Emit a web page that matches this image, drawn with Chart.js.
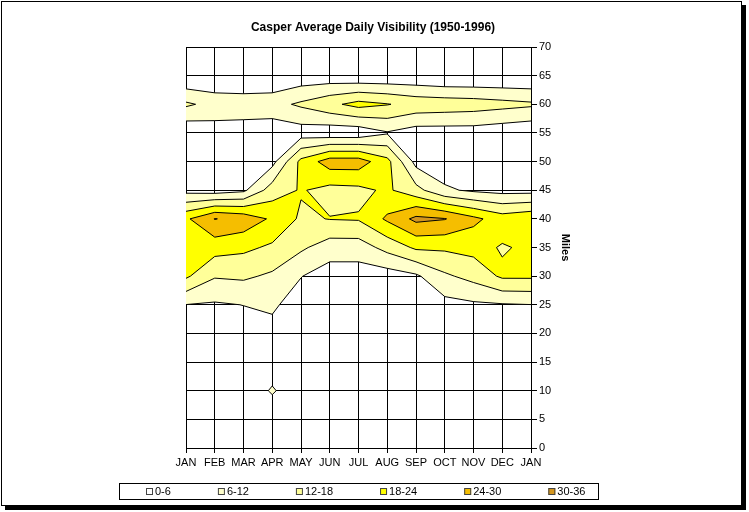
<!DOCTYPE html>
<html>
<head>
<meta charset="utf-8">
<title>Casper Average Daily Visibility</title>
<script src="https://cdn.jsdelivr.net/npm/chart.js@4"></script>
<style>
  html, body { margin: 0; padding: 0; background: #fff; }
  canvas { display: block; }
</style>
</head>
<body>
<canvas id="visChart" width="749" height="512"></canvas>
<script>
const months = ["JAN", "FEB", "MAR", "APR", "MAY", "JUN", "JUL", "AUG", "SEP", "OCT", "NOV", "DEC", "JAN"];
const milesLevels = [0, 5, 10, 15, 20, 25, 30, 35, 40, 45, 50, 55, 60, 65, 70];
const bandLabels = ["0-6", "6-12", "12-18", "18-24", "24-30", "30-36"];
const bandLimits = [6, 12, 18, 24, 30];
const bandColors = ["#FFFFFF", "#FFFFCC", "#FFFF99", "#FFFF00", "#F5BE00", "#D4961E"];

// average daily value for each visibility (miles) row, one value per month
const vis0  = [0, 0, 0, 0, 0, 0, 0, 0, 0, 0, 0, 0, 0];
const vis5  = [0, 0, 0, 1, 0, 0, 0, 0, 0, 0, 0, 0, 0];
const vis10 = [1, 1, 1, 6.8, 1, 0, 0, 0, 0, 0, 0, 0, 1];
const vis15 = [1, 1, 1, 2, 1, 1, 1, 1, 1, 1, 1, 1, 1];
const vis20 = [2, 2, 3, 4, 2, 1, 1, 1, 1, 1, 1, 1, 2];
const vis25 = [5.9, 5.3, 6.1, 7, 3, 2, 2, 2, 3, 4, 5, 5.5, 5.9];
const vis30 = [19, 12.5, 13, 11, 6.2, 3, 3, 3, 5, 11, 14, 19, 19];
const vis35 = [19, 20.5, 19.3, 17, 13, 9, 9, 14, 19, 19, 20, 17.5, 19];
const vis40 = [23, 30.2, 28, 23, 17, 18.2, 18.5, 25, 31.5, 30.3, 25.5, 21, 23];
const vis45 = [4, 3, 4.8, 15, 18.5, 16, 16.5, 19, 14, 7, 5, 4, 4];
const vis50 = [1, 1, 2, 4, 19.7, 27, 27, 19.9, 4, 2, 1, 1, 1];
const vis55 = [1, 3, 3, 2, 3, 2, 2, 5.5, 3, 3, 3, 2, 1];
const vis60 = [13, 10, 9.5, 10, 13, 16.5, 20, 18.3, 16, 15.5, 15, 14, 13];
const vis65 = [0, 0, 0, 0, 2, 2, 1, 1, 1, 0, 0, 0, 0];
const vis70 = [0, 0, 0, 0, 0, 0, 0, 0, 0, 0, 0, 0, 0];

const grid = [vis0, vis5, vis10, vis15, vis20, vis25, vis30, vis35, vis40, vis45, vis50, vis55, vis60, vis65, vis70];

const fontFamily = 'Arial, "Liberation Sans", sans-serif';
Chart.defaults.font.family = fontFamily;
Chart.defaults.color = "#000";

// filled contour bands + contour lines (marching squares on the data grid)
const contourPlugin = {
    id: "contourBands",
    beforeDatasetsDraw(chart) {
        const {ctx, chartArea, scales} = chart;
        const xs = scales.x, ys = scales.y;
        ctx.save();
        ctx.beginPath();
        ctx.rect(chartArea.left, chartArea.top, chartArea.right - chartArea.left, chartArea.bottom - chartArea.top);
        ctx.clip();
        const segs = [];
        bandLimits.forEach((t, b) => {
            ctx.beginPath();
            for (let r = 0; r < grid.length - 1; r++) {
                for (let c = 0; c < months.length - 1; c++) {
                    const pts = [
                        [c, milesLevels[r], grid[r][c]],
                        [c + 1, milesLevels[r], grid[r][c + 1]],
                        [c + 1, milesLevels[r + 1], grid[r + 1][c + 1]],
                        [c, milesLevels[r + 1], grid[r + 1][c]]
                    ];
                    const poly = [];
                    const cross = [];
                    for (let i = 0; i < 4; i++) {
                        const a = pts[i], e = pts[(i + 1) % 4];
                        const aIn = a[2] >= t, eIn = e[2] >= t;
                        if (aIn) poly.push([a[0], a[1]]);
                        if (aIn !== eIn) {
                            const f = (t - a[2]) / (e[2] - a[2]);
                            const p = [a[0] + (e[0] - a[0]) * f, a[1] + (e[1] - a[1]) * f];
                            poly.push(p);
                            cross.push({p: p, exit: aIn});
                        }
                    }
                    if (poly.length >= 3) {
                        poly.forEach((p, i) => {
                            const X = xs.getPixelForValue(p[0]), Y = ys.getPixelForValue(p[1]);
                            if (i === 0) ctx.moveTo(X, Y); else ctx.lineTo(X, Y);
                        });
                        ctx.closePath();
                    }
                    for (let k = 0; k < cross.length; k++) {
                        if (cross[k].exit) segs.push([cross[k].p, cross[(k + 1) % cross.length].p]);
                    }
                }
            }
            ctx.fillStyle = bandColors[b + 1];
            ctx.fill();
        });
        ctx.beginPath();
        segs.forEach(s => {
            ctx.moveTo(xs.getPixelForValue(s[0][0]), ys.getPixelForValue(s[0][1]));
            ctx.lineTo(xs.getPixelForValue(s[1][0]), ys.getPixelForValue(s[1][1]));
        });
        ctx.strokeStyle = "#000";
        ctx.lineWidth = 1;
        ctx.stroke();
        ctx.restore();
    }
};

// boxed legend under the axis, plus the chart frame with its shadow
const frameLegendPlugin = {
    id: "frameLegend",
    afterDraw(chart) {
        const {ctx, chartArea} = chart;
        const xs = chart.scales.x;
        ctx.save();
        ctx.font = "11px " + fontFamily;
        const items = chart.data.datasets.map(ds => ({text: ds.label, color: ds.backgroundColor, w: ctx.measureText(ds.label).width}));
        const sq = 7, gap = 47;
        let total = 0;
        items.forEach((it, i) => { total += sq + 2 + it.w + (i ? gap : 0); });
        const boxW = Math.round(total + 40);
        const cx = (chartArea.left + chartArea.right) / 2;
        const boxL = Math.round(cx - boxW / 2) + 0.5;
        const boxT = Math.round(xs.bottom + 15) + 0.5;
        const boxH = 16;
        ctx.strokeStyle = "#000";
        ctx.lineWidth = 1;
        ctx.strokeRect(boxL, boxT, boxW, boxH);
        const midY = boxT + boxH / 2;
        let x = Math.round(boxL + 26);
        ctx.textBaseline = "middle";
        ctx.textAlign = "left";
        items.forEach(it => {
            ctx.fillStyle = it.color;
            ctx.fillRect(x, Math.round(midY - sq / 2), sq, sq);
            ctx.strokeStyle = "#444";
            ctx.strokeRect(x + 0.5, Math.round(midY - sq / 2) + 0.5, sq - 1, sq - 1);
            ctx.fillStyle = "#000";
            ctx.fillText(it.text, x + sq + 2, midY + 0.5);
            x += sq + 2 + it.w + gap;
        });
        // frame
        ctx.strokeStyle = "#000";
        ctx.strokeRect(1.5, 1.5, 740, 504);
        ctx.fillStyle = "#000";
        ctx.fillRect(742, 5, 4, 505);
        ctx.fillRect(5, 506, 741, 4);
        ctx.restore();
    }
};

const bandSets = bandLabels.map((label, i) => ({
    label: label,
    data: [],
    backgroundColor: bandColors[i],
    borderColor: "#000"
}));

new Chart(document.getElementById("visChart"), {
    type: "line",
    data: {labels: months, datasets: bandSets},
    options: {
        responsive: false,
        animation: false,
        events: [],
        layout: {padding: {top: 0, left: 186, right: 189, bottom: 44}},
        plugins: {
            legend: {display: false},
            tooltip: {enabled: false},
            title: {
                display: true,
                text: "Casper Average Daily Visibility (1950-1996)",
                color: "#000",
                font: {size: 12, weight: "bold"},
                padding: {top: 20, bottom: 12.6}
            }
        },
        scales: {
            x: {
                type: "category",
                offset: false,
                z: 1,
                grid: {color: "#000", tickLength: 5, tickColor: "#000"},
                border: {color: "#000"},
                ticks: {font: {size: 11}, color: "#000", padding: 3, maxRotation: 0, autoSkip: false},
                afterFit(scale) { scale.height = 20; }
            },
            y: {
                position: "right",
                min: 0,
                max: 70,
                z: 1,
                grid: {color: "#000", tickLength: 6, tickColor: "#000"},
                border: {color: "#000"},
                ticks: {stepSize: 5, font: {size: 11}, color: "#000", padding: 2},
                title: {display: true, text: "Miles", color: "#000", font: {size: 11, weight: "bold"}, padding: {top: -12, bottom: 0}},
                afterFit(scale) { scale.width = 29; }
            }
        }
    },
    plugins: [contourPlugin, frameLegendPlugin]
});
</script>
</body>
</html>
